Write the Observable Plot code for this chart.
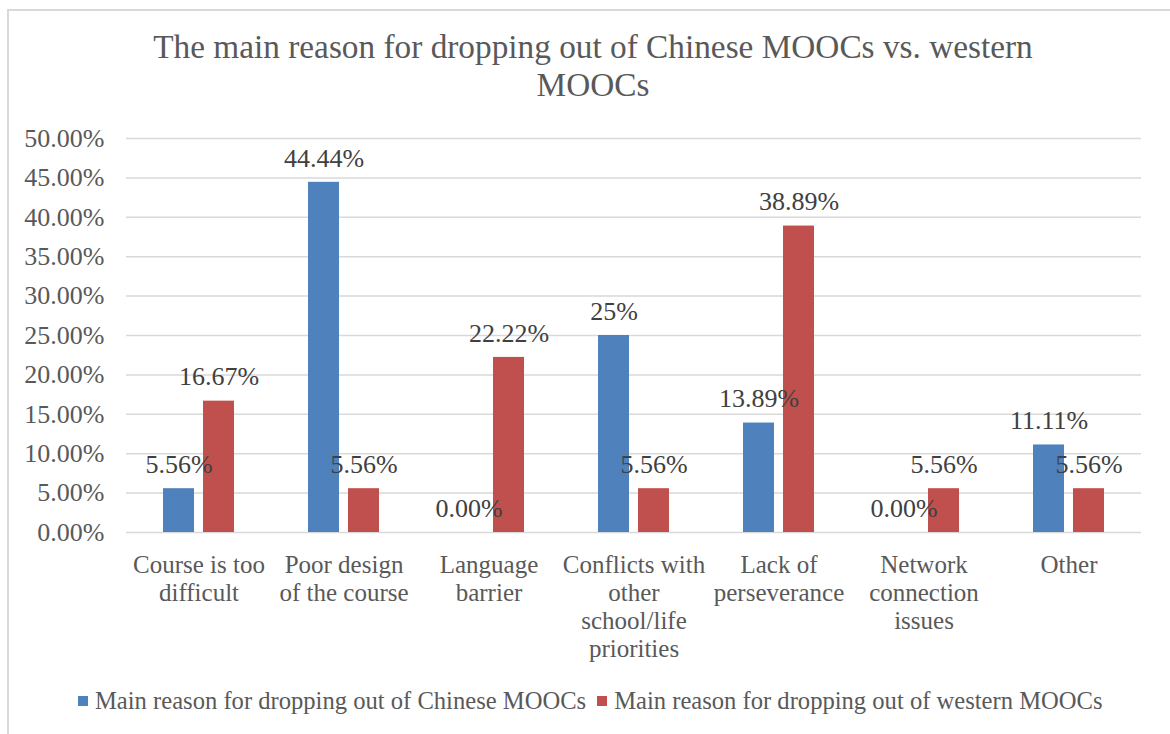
<!DOCTYPE html>
<html><head><meta charset="utf-8">
<script src="https://cdn.jsdelivr.net/npm/d3@7"></script>
<script src="https://cdn.jsdelivr.net/npm/@observablehq/plot@0.6"></script>
<style>
body{margin:0;background:#fff;font-family:"Liberation Serif",serif;color:#595959;width:1170px;height:734px;overflow:hidden;position:relative}
#frame{position:absolute;left:7px;top:9px;width:1170px;height:740px;border-left:2px solid #d9d9d9;border-top:2px solid #d9d9d9}
#title{position:absolute;left:0;top:28px;width:1186px;text-align:center;font-size:33.3px;line-height:38px}
#chart{position:absolute;left:0;top:110px}
#legend{position:absolute;top:688px;left:78px;display:flex;align-items:center;font-size:24.6px;line-height:26px;white-space:nowrap}
.sw{display:inline-block;width:10px;height:10px;margin-right:7px}
.item{display:flex;align-items:center;margin-right:11px}
</style></head>
<body>
<div id="frame"></div>
<div id="title">The main reason for dropping out of Chinese MOOCs vs. western<br>MOOCs</div>
<div id="chart"></div>
<div id="legend"></div>
<script>
const categories = ["Course is too\ndifficult", "Poor design\nof the course", "Language\nbarrier", "Conflicts with\nother\nschool/life\npriorities", "Lack of\nperseverance", "Network\nconnection\nissues", "Other"];
const seriesNames = ["Main reason for dropping out of Chinese MOOCs", "Main reason for dropping out of western MOOCs"];
const seriesColors = ["#4f81bd", "#c0504d"];
const chineseValues = [0.0556, 0.4444, 0, 0.25, 0.1389, 0, 0.1111];
const westernValues = [0.1667, 0.0556, 0.2222, 0.0556, 0.3889, 0.0556, 0.0556];
const chineseLabels = ["5.56%", "44.44%", "0.00%", "25%", "13.89%", "0.00%", "11.11%"];
const westernLabels = ["16.67%", "5.56%", "22.22%", "5.56%", "38.89%", "5.56%", "5.56%"];
const yTicks = [0, 0.05, 0.1, 0.15, 0.2, 0.25, 0.3, 0.35, 0.4, 0.45, 0.5];

const rows = [];
categories.forEach((c, i) => {
  rows.push({category: c, series: seriesNames[0], value: chineseValues[i], label: chineseLabels[i]});
  rows.push({category: c, series: seriesNames[1], value: westernValues[i], label: westernLabels[i]});
});

const chart = Plot.plot({
  width: 1170, height: 560,
  marginLeft: 125, marginRight: 28, marginTop: 28, marginBottom: 138,
  style: {fontFamily: "'Liberation Serif', serif", fontSize: "25px", color: "#595959", background: "transparent", overflow: "visible"},
  fx: {domain: categories, padding: 0, label: null},
  x: {domain: seriesNames, paddingInner: 0.22, paddingOuter: 0.88, axis: null},
  y: {domain: [0, 0.5]},
  color: {domain: seriesNames, range: seriesColors},
  marks: [
    Plot.ruleY(yTicks, {stroke: "#d9d9d9", strokeWidth: 1.5}),
    Plot.axisY({ticks: yTicks, tickSize: 0, tickPadding: 22, tickFormat: d3.format(".2%"), label: null, fontSize: 26}),
    Plot.axisFx({tickSize: 0, tickPadding: 21, lineHeight: 1.12, label: null, anchor: "bottom", fontSize: 25}),
    Plot.barY(rows, {fx: "category", x: "series", y: "value", fill: "series"}),
    Plot.text(rows, {fx: "category", x: "series", y: "value", text: "label", dy: -24, fill: "#404040", fontSize: 26})
  ]
});
document.getElementById("chart").append(chart);

const legend = document.getElementById("legend");
seriesNames.forEach((s, i) => {
  const item = document.createElement("span");
  item.className = "item";
  const sw = document.createElement("span");
  sw.className = "sw";
  sw.style.background = seriesColors[i];
  item.append(sw, document.createTextNode(s));
  legend.append(item);
});
</script>
</body></html>
